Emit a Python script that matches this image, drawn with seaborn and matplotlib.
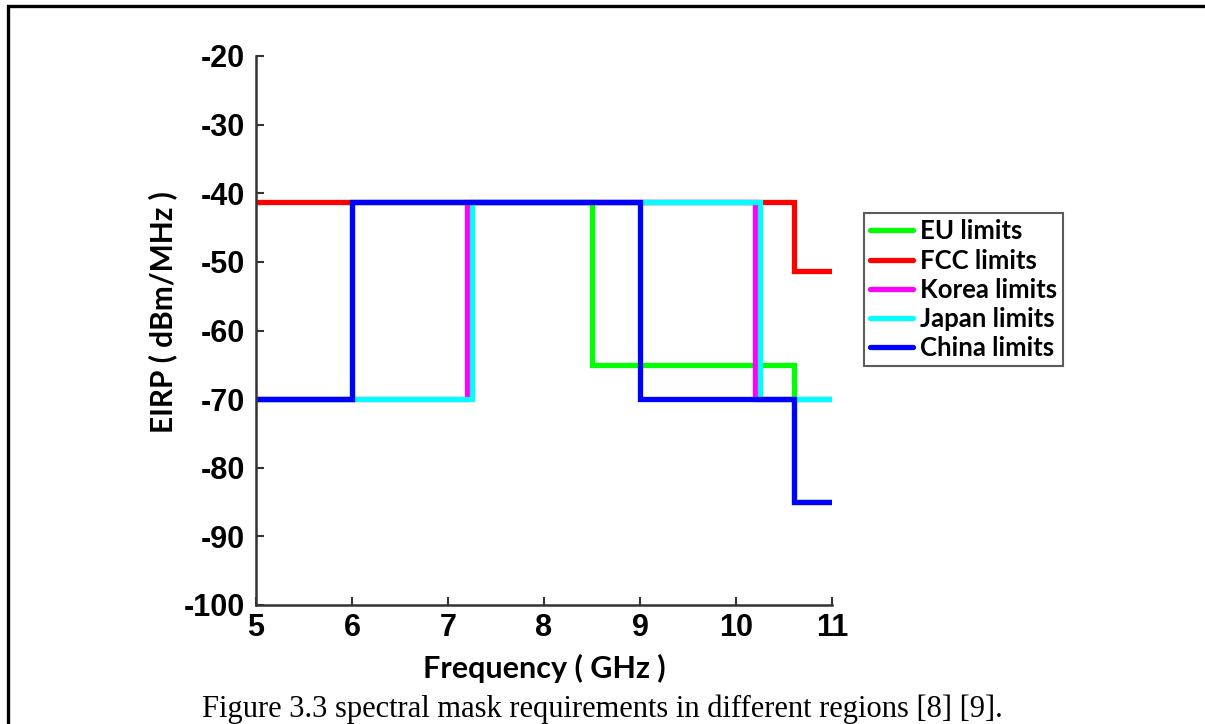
import numpy as np
import pandas as pd
import seaborn as sns
import matplotlib
matplotlib.use("Agg")
import matplotlib.pyplot as plt
from matplotlib.patches import Rectangle
from matplotlib.lines import Line2D

# ---- data (step breakpoints, GHz / dBm/MHz) ----
regions = ["EU limits", "FCC limits", "Korea limits", "Japan limits", "China limits"]
eu_f = [5, 6, 8.5, 10.6, 11]
eu_p = [-70, -41.3, -65, -85, -85]
fcc_f = [5, 10.6, 11]
fcc_p = [-41.3, -51.3, -51.3]
korea_f = [5, 7.2, 10.2, 11]
korea_p = [-70, -41.3, -70, -70]
japan_f = [5, 7.25, 10.25, 11]
japan_p = [-70, -41.3, -70, -70]
china_f = [5, 6, 9, 10.6, 11]
china_p = [-70, -41.3, -70, -85, -85]
colors = ["#00ff00", "#ff0000", "#ff00ff", "#00ffff", "#0000ff"]
xticks = [5, 6, 7, 8, 9, 10, 11]
yticks = [-100, -90, -80, -70, -60, -50, -40, -30, -20]

freqs = [eu_f, fcc_f, korea_f, japan_f, china_f]
powers = [eu_p, fcc_p, korea_p, japan_p, china_p]

sns.set_style("white")
plt.rcParams["font.family"] = ["Liberation Sans", "DejaVu Sans"]

fig = plt.figure(figsize=(12.05, 7.24), dpi=100)
ax = fig.add_axes([256 / 1205, 1 - 605 / 724, 576 / 1205, (605 - 56) / 724])

for name, f, p, c in zip(regions, freqs, powers, colors):
    df = pd.DataFrame({"f": f, "p": p})
    sns.lineplot(data=df, x="f", y="p", ax=ax, color=c, linewidth=3.8,
                 drawstyle="steps-post", sort=False, estimator=None,
                 label=name, legend=False, solid_joinstyle="miter",
                 solid_capstyle="butt")

ax.set_xlim(5, 11)
ax.set_ylim(-100, -20)
ax.set_xticks(xticks)
ax.set_yticks(yticks)
ax.set_xticklabels([str(t) for t in xticks])
ax.set_yticklabels([str(t) for t in yticks])
for lab in ax.get_xticklabels() + ax.get_yticklabels():
    lab.set_fontweight("bold")
    lab.set_fontsize(22)
    lab.set_color("black")
ax.tick_params(axis="both", direction="in", length=6, width=1.5, color="#333333",
               bottom=True, left=True, top=False, right=False)
ax.tick_params(axis="x", pad=6)
ax.tick_params(axis="y", pad=8)
for s in ["top", "right"]:
    ax.spines[s].set_visible(False)
for s in ["left", "bottom"]:
    ax.spines[s].set_color("#333333")
    ax.spines[s].set_linewidth(1.8)
ax.set_facecolor("none")

xl = ax.set_xlabel("Frequency ( GHz )", fontsize=22, fontweight="bold",
                   family=["Lato", "DejaVu Sans"], color="black")
xl.set_va("center")
ax.xaxis.set_label_coords(0.5, (605 - 668) / 549)
yl = ax.set_ylabel("EIRP ( dBm/MHz )", fontsize=21.5, fontweight="bold",
                   family=["Lato", "DejaVu Sans"], color="black")
yl.set_va("center")
ax.yaxis.set_label_coords((163 - 256) / 576, (605 - 312) / 549)

handles = [Line2D([], [], color=c, linewidth=3.8) for c in colors]
leg = fig.legend(handles, regions, loc="upper left",
                 bbox_to_anchor=(864 / 1205, 1 - 213 / 724),
                 prop={"family": "Lato", "weight": "bold", "size": 18.5},
                 frameon=True, fancybox=False, edgecolor="#333333",
                 handlelength=1.67, handletextpad=0.25, borderpad=0.25,
                 labelspacing=0.2, borderaxespad=0)
leg.get_frame().set_linewidth(1.5)
for t in leg.get_texts():
    t.set_color("black")

fig.text(0.5, 1 - 717 / 724, "Figure 3.3 spectral mask requirements in different regions [8] [9].",
         ha="center", va="baseline", fontsize=22, color="black",
         family=["Liberation Serif", "DejaVu Serif"])

fig.patches.append(Rectangle((8 / 1205, -0.1), 1.2, 1 - 6 / 724 + 0.1,
                             transform=fig.transFigure, fill=False,
                             edgecolor="black", linewidth=2.4))

fig.savefig("out.png", dpi=100)
